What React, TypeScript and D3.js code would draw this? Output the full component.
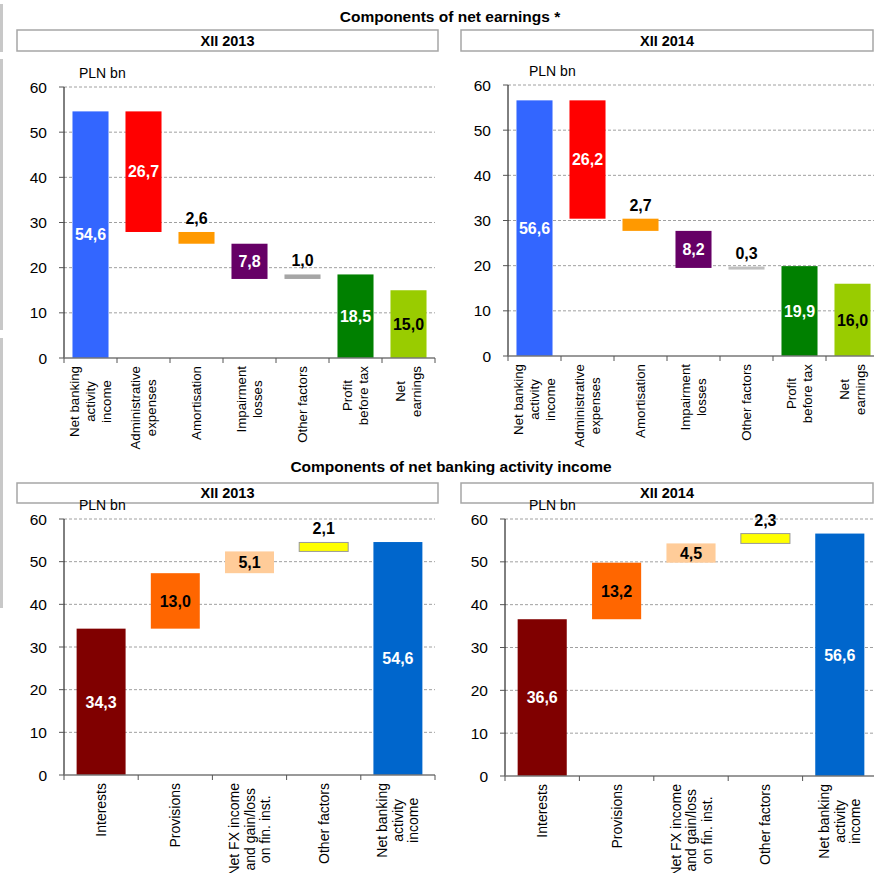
import * as d3 from 'd3';

// ---- data ----
const earningsCategories = [
  ['Net banking', 'activity', 'income'],
  ['Administrative', 'expenses'],
  ['Amortisation'],
  ['Impairment', 'losses'],
  ['Other factors'],
  ['Profit', 'before tax'],
  ['Net', 'earnings'],
];
const earningsKinds = ['total', 'delta', 'delta', 'delta', 'delta', 'total', 'total'];
const earnings2013 = [54.6, -26.7, -2.6, -7.8, 1.0, 18.5, 15.0];
const earnings2014 = [56.6, -26.2, -2.7, -8.2, 0.3, 19.9, 16.0];
const earningsColors2013 = ['#3366FF', '#FF0000', '#FF9900', '#660066', '#A6A6A6', '#008000', '#99CC00'];
const earningsColors2014 = ['#3366FF', '#FF0000', '#FF9900', '#660066', '#C0C0C0', '#008000', '#99CC00'];
const earningsLabelPos = ['in', 'in', 'above', 'in', 'above', 'in', 'in'];
const earningsLabelColors = ['#fff', '#fff', '#000', '#fff', '#000', '#fff', '#000'];

const incomeCategories = [
  ['Interests'],
  ['Provisions'],
  ['Net FX income', 'and gain/loss', 'on fin. inst.'],
  ['Other factors'],
  ['Net banking', 'activity', 'income'],
];
const incomeKinds = ['total', 'delta', 'delta', 'delta', 'total'];
const income2013 = [34.3, 13.0, 5.1, 2.1, 54.6];
const income2014 = [36.6, 13.2, 4.5, 2.3, 56.6];
const incomeColors = ['#800000', '#FF6600', '#FFCC99', '#FFFF00', '#0066CC'];
const incomeLabelPos = ['in', 'in', 'in', 'above', 'in'];
const incomeLabelColors = ['#fff', '#000', '#000', '#000', '#fff'];

const yTicks = [0, 10, 20, 30, 40, 50, 60];

const FONT = "'Liberation Sans', Arial, Helvetica, sans-serif";

let ctx: CanvasRenderingContext2D | null = null;
function textWidth(t: string, size: number) {
  if (!ctx) ctx = document.createElement('canvas').getContext('2d');
  if (!ctx) return t.length * size * 0.5;
  ctx.font = `${size}px ${FONT}`;
  return ctx.measureText(t).width;
}

const fmt = (v: number) => d3.format('.1f')(Math.abs(v)).replace('.', ',');

type PanelProps = {
  x0: number;
  width: number;
  yTop: number;
  yBottom: number;
  pad: number;
  plnX: number;
  catFont: number;
  lineH: number;
  categories: string[][];
  kinds: string[];
  values: number[];
  colors: string[];
  labelPos: string[];
  labelColors: string[];
};

function Waterfall(p: PanelProps) {
  const idx = p.values.map((_, i) => String(i));
  const x = d3.scaleBand<string>().domain(idx).range([p.x0, p.x0 + p.width])
    .paddingInner(p.pad).paddingOuter(p.pad / 2);
  const y = d3.scaleLinear().domain([0, 60]).range([p.yBottom, p.yTop]);
  const step = x.step();

  // running totals for the waterfall
  let run = 0;
  const segs = p.values.map((v, i) => {
    if (p.kinds[i] === 'total') {
      run = v;
      return [0, v];
    }
    const s = run;
    run = run + v;
    return [Math.min(s, run), Math.max(s, run)];
  });

  return (
    <g>
      {/* grid */}
      {yTicks.filter(t => t > 0).map(t => (
        <line key={'g' + t} x1={p.x0} x2={p.x0 + p.width} y1={y(t)} y2={y(t)}
          stroke="#A0A0A0" strokeWidth={1} strokeDasharray="3,2" />
      ))}
      {/* y axis */}
      <line x1={p.x0} x2={p.x0} y1={y(60)} y2={y(0)} stroke="#000" strokeWidth={1} />
      {yTicks.map(t => (
        <g key={'t' + t}>
          <line x1={p.x0 - 5} x2={p.x0} y1={y(t)} y2={y(t)} stroke="#555" />
          <text x={p.x0 - 17} y={y(t)} dy="0.36em" textAnchor="end" fontSize={15.5}
            fontFamily={FONT} fill="#000">{t}</text>
        </g>
      ))}
      <text x={p.plnX} y={p.yTop - 9} fontSize={14} fontFamily={FONT} fill="#000">PLN bn</text>

      {/* bars */}
      {segs.map((s, i) => {
        const h = Math.max(3, y(s[0]) - y(s[1]));
        return (
          <rect key={'b' + i} x={x(String(i))} width={x.bandwidth()}
            y={y(s[1])} height={h}
            fill={p.colors[i]}
            stroke={p.colors[i] === '#FFFF00' ? '#999' : 'none'} strokeWidth={1} />
        );
      })}
      {/* value labels */}
      {segs.map((s, i) => {
        const cx = (x(String(i)) ?? 0) + x.bandwidth() / 2;
        const above = p.labelPos[i] === 'above';
        const ly = above ? y(s[1]) - 8 : (y(s[0]) + y(s[1])) / 2;
        return (
          <text key={'l' + i} x={cx} y={ly} dy={above ? 0 : '0.36em'} textAnchor="middle"
            fontSize={16} fontWeight="bold" fontFamily={FONT} fill={p.labelColors[i]}>
            {fmt(p.values[i])}
          </text>
        );
      })}

      {/* x axis */}
      <line x1={p.x0} x2={p.x0 + p.width} y1={p.yBottom} y2={p.yBottom} stroke="#777" strokeWidth={1.5} />
      {d3.range(p.values.length + 1).map(i => (
        <line key={'x' + i} x1={p.x0 + i * step} x2={p.x0 + i * step}
          y1={p.yBottom} y2={p.yBottom + 5} stroke="#555" />
      ))}
      {p.categories.map((lines, i) => {
        const cx = (x(String(i)) ?? 0) + x.bandwidth() / 2;
        const maxLen = d3.max(lines, l => textWidth(l, p.catFont)) ?? 0;
        return (
          <g key={'c' + i} transform={`translate(${cx},${p.yBottom + 8}) rotate(-90)`}>
            {lines.map((l, j) => (
              <text key={j} x={-maxLen / 2} y={(j - (lines.length - 1) / 2) * p.lineH}
                dy="0.36em" textAnchor="middle" fontSize={p.catFont} fontFamily={FONT} fill="#000">
                {l}
              </text>
            ))}
          </g>
        );
      })}
    </g>
  );
}

function Header({ x, y, w, h, label }: { x: number; y: number; w: number; h: number; label: string }) {
  return (
    <g>
      <rect x={x} y={y} width={w} height={h} fill="#fff" stroke="#A6A6A6" strokeWidth={1.5} />
      <text x={x + w / 2} y={y + h / 2} dy="0.36em" textAnchor="middle" fontSize={14.5}
        fontWeight="bold" fontFamily={FONT} fill="#000">{label}</text>
    </g>
  );
}

export default function App() {
  return (
    <svg width={874} height={873} viewBox="0 0 874 873"
      style={{ position: 'absolute', left: 0, top: 0, background: '#fff' }}>
      <rect x={0} y={0} width={874} height={873} fill="#fff" />
      {/* page edge marks */}
      <rect x={0} y={4} width={3} height={48} fill="#C8C8C8" />
      <rect x={0} y={59} width={3} height={271} fill="#C8C8C8" />
      <rect x={0} y={338} width={3} height={270} fill="#C8C8C8" />

      <text x={450} y={22} textAnchor="middle" fontSize={15.5} fontWeight="bold" fontFamily={FONT}>
        Components of net earnings *
      </text>
      <Header x={17} y={30} w={421} h={21} label="XII 2013" />
      <Header x={461} y={30} w={412} h={21} label="XII 2014" />

      <Waterfall x0={64} width={371} yTop={87} yBottom={358} pad={0.32} plnX={79}
        catFont={13.3} lineH={16}
        categories={earningsCategories} kinds={earningsKinds} values={earnings2013}
        colors={earningsColors2013} labelPos={earningsLabelPos} labelColors={earningsLabelColors} />
      <Waterfall x0={508} width={371} yTop={85} yBottom={356} pad={0.32} plnX={529}
        catFont={13.3} lineH={16}
        categories={earningsCategories} kinds={earningsKinds} values={earnings2014}
        colors={earningsColors2014} labelPos={earningsLabelPos} labelColors={earningsLabelColors} />

      <text x={451} y={472} textAnchor="middle" fontSize={15.5} fontWeight="bold" fontFamily={FONT}>
        Components of net banking activity income
      </text>
      <Header x={17} y={483} w={421} h={20} label="XII 2013" />
      <Header x={461} y={483} w={412} h={20} label="XII 2014" />

      <Waterfall x0={64} width={371} yTop={519} yBottom={775} pad={0.34} plnX={79}
        catFont={14} lineH={15.5}
        categories={incomeCategories} kinds={incomeKinds} values={income2013}
        colors={incomeColors} labelPos={incomeLabelPos} labelColors={incomeLabelColors} />
      <Waterfall x0={505} width={372} yTop={519} yBottom={776} pad={0.34} plnX={529}
        catFont={14} lineH={15.5}
        categories={incomeCategories} kinds={incomeKinds} values={income2014}
        colors={incomeColors} labelPos={incomeLabelPos} labelColors={incomeLabelColors} />
    </svg>
  );
}
